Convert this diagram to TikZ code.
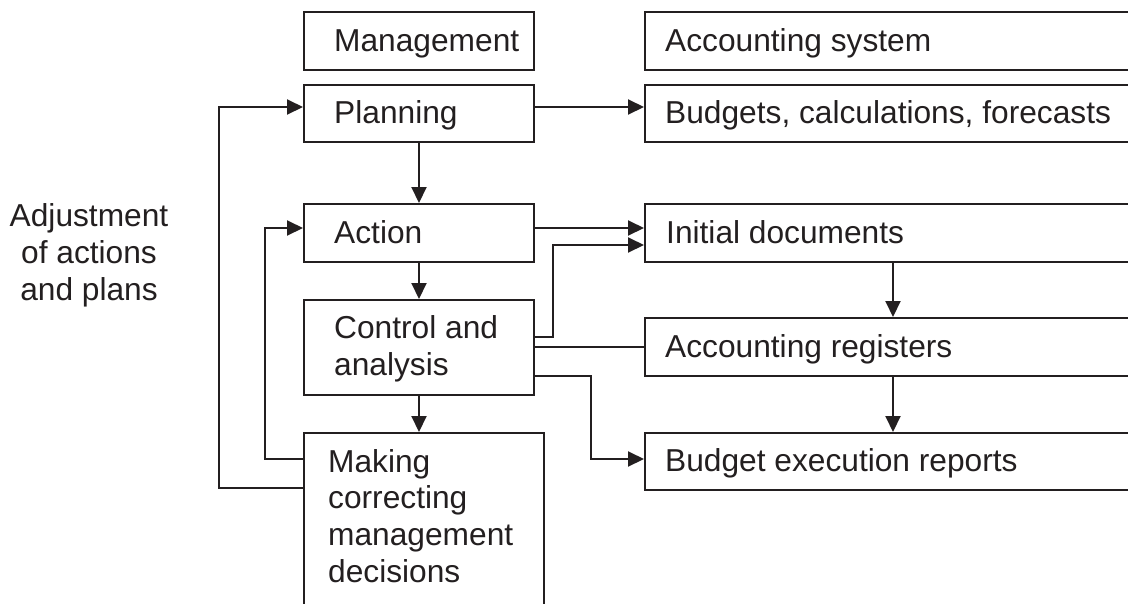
\documentclass[tikz,border=0pt]{standalone}
\usepackage{fontspec}
\setmainfont{Liberation Sans}
\usetikzlibrary{arrows.meta}
\definecolor{ink}{HTML}{231F20}
\begin{document}
\begin{tikzpicture}[x=1pt,y=-1pt,
  box/.style={draw=ink, line width=2pt, inner sep=0pt, anchor=north west},
  lbl/.style={inner sep=0pt, anchor=base west, text=ink,
              font=\fontsize{31.7}{36.6}\selectfont, align=left},
  link/.style={draw=ink, line width=2pt},
  arr/.style={link, -{Triangle[length=16pt,width=15pt]}}
]
\useasboundingbox (0,0) rectangle (1128,603);
\clip (0,0) rectangle (1128,603);

% management column
\node[box, minimum width=230pt, minimum height=58pt] (mgmt)    at (303,11)  {};
\node[box, minimum width=230pt, minimum height=57pt] (plan)    at (303,84)  {};
\node[box, minimum width=230pt, minimum height=58pt] (action)  at (303,203) {};
\node[box, minimum width=230pt, minimum height=95pt] (control) at (303,299) {};
\node[box, minimum width=240pt, minimum height=208pt] (making) at (303,432) {};

% accounting column
\node[box, minimum width=506pt, minimum height=58pt] (accsys)    at (644,11)  {};
\node[box, minimum width=506pt, minimum height=57pt] (budgets)   at (644,84)  {};
\node[box, minimum width=506pt, minimum height=58pt] (initial)   at (644,203) {};
\node[box, minimum width=506pt, minimum height=58pt] (registers) at (644,317) {};
\node[box, minimum width=506pt, minimum height=57pt] (reports)   at (644,432) {};

% labels (multi-line labels are placed by their last baseline)
\node[lbl] (mgmt-t)      at (334,51)  {Management};
\node[lbl] (plan-t)      at (334,123) {Planning};
\node[lbl] (action-t)    at (334,243) {Action};
\node[lbl] (control-t)   at (334,375) {Control and\\analysis};
\node[lbl] (making-t)    at (328,582) {Making\\correcting\\management\\decisions};
\node[lbl] (accsys-t)    at (665,51)  {Accounting system};
\node[lbl] (budgets-t)   at (665,123) {Budgets, calculations, forecasts};
\node[lbl] (initial-t)   at (666,243) {Initial documents};
\node[lbl] (registers-t) at (665,357) {Accounting registers};
\node[lbl] (reports-t)   at (665,471) {Budget execution reports};
\node[lbl, anchor=base, align=center] (adjust-t) at (89,300)
  {Adjustment\\of actions\\and plans};

% bend points
\coordinate (fbout) at (219,300);
\coordinate (fbin)  at (265,300);
\coordinate (jog1)  at (553,300);
\coordinate (jog2)  at (591,400);

% main flow
\draw[arr] (plan.south) -- (action.north);
\draw[arr] (action.south) -- (control.north);
\draw[arr] (control.south) -- (control.south |- making.north);
\draw[arr] ([xshift=249pt]initial.south west) -- ([xshift=249pt]registers.north west);
\draw[arr] ([xshift=249pt]registers.south west) -- ([xshift=249pt]reports.north west);

% management to accounting
\draw[arr] ([yshift=-23pt]plan.north east) -- ([yshift=-23pt]budgets.north west);
\draw[arr] ([yshift=-25pt]action.north east) -- ([yshift=-25pt]initial.north west);
\draw[arr] ([shift={(-2pt,-38pt)}]control.north east) -| (jog1) |- ([yshift=-42pt]initial.north west);
\draw[link] ([shift={(-2pt,-48pt)}]control.north east) -- ([yshift=-30pt]registers.north west);
\draw[arr] ([shift={(-2pt,-77pt)}]control.north east) -| (jog2) |- ([yshift=-27pt]reports.north west);

% feedback loops
\draw[arr] ([yshift=-56pt]making.north west) -| (fbout) |- ([yshift=-23pt]plan.north west);
\draw[arr] ([yshift=-27pt]making.north west) -| (fbin) |- ([yshift=-25pt]action.north west);
\end{tikzpicture}
\end{document}
